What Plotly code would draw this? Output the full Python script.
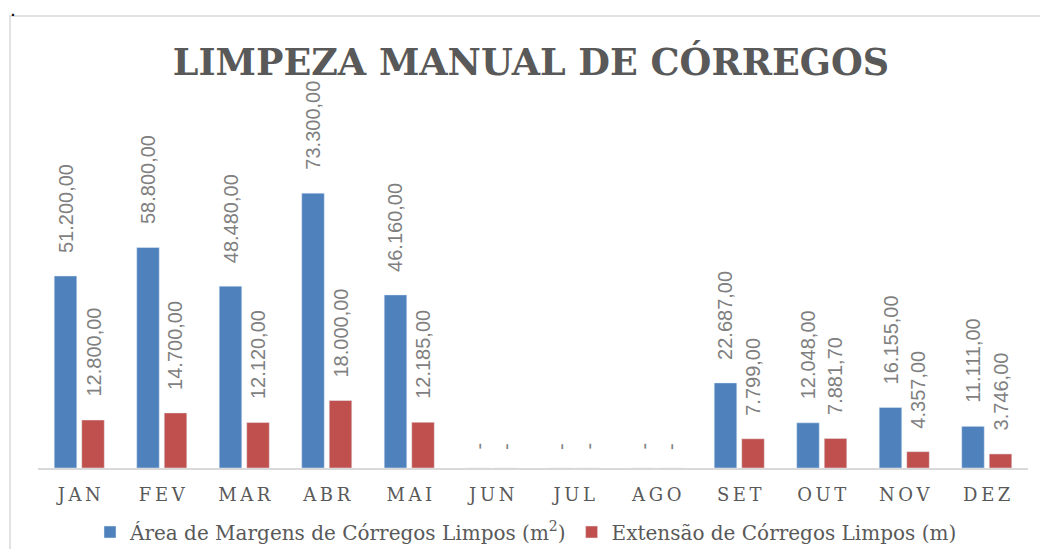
import plotly.graph_objects as go

months = ["JAN", "FEV", "MAR", "ABR", "MAI", "JUN", "JUL", "AGO", "SET", "OUT", "NOV", "DEZ"]
area_m2 = [51200, 58800, 48480, 73300, 46160, 0, 0, 0, 22687, 12048, 16155, 11111]
extensao_m = [12800, 14700, 12120, 18000, 12185, 0, 0, 0, 7799, 7881.7, 4357, 3746]

name_area = "Área de Margens de Córregos Limpos (m<sup>2</sup>)"
name_ext = "Extensão de Córregos Limpos (m)"
title_text = "LIMPEZA MANUAL DE CÓRREGOS"

BLUE = "#4F81BD"
RED = "#C0504D"
GRAY_TXT = "#595959"
LABEL_GRAY = "#7F7F7F"
SERIF = "DejaVu Serif"
SANS = "Liberation Sans"


def fmt_br(v):
    if v == 0:
        return "-"
    s = f"{v:,.2f}"
    return s.replace(",", "X").replace(".", ",").replace("X", ".")


fig = go.Figure()
fig.add_trace(go.Bar(x=months, y=area_m2, name=name_area, marker_color=BLUE))
fig.add_trace(go.Bar(x=months, y=extensao_m, name=name_ext, marker_color=RED))

annotations = []
for series, shift in ((area_m2, -13.75), (extensao_m, 13.75)):
    for m, v in zip(months, series):
        annotations.append(dict(
            x=m, y=v, xref="x", yref="y", text=fmt_br(v), showarrow=False,
            textangle=-90, xanchor="center", yanchor="bottom",
            xshift=shift, yshift=21 if v else 16,
            font=dict(family=SANS, size=20, color=LABEL_GRAY),
        ))

annotations.append(dict(
    x=-0.0255, y=1.246, xref="paper", yref="paper", text="<b>.</b>", showarrow=False,
    xanchor="center", yanchor="top",
    font=dict(family=SANS, size=14, color="black"),
))

fig.update_layout(
    width=1040, height=549,
    margin=dict(l=38, r=12, t=93, b=81, autoexpand=False),
    paper_bgcolor="white", plot_bgcolor="white",
    barmode="group", bargap=0.333, bargroupgap=0.18,
    title=dict(
        text="<b>" + title_text + "</b>",
        x=531 / 1040, xanchor="center", xref="container",
        y=(549 - 62) / 549, yanchor="middle", yref="container",
        font=dict(family=SERIF, size=36.5, color=GRAY_TXT),
    ),
    xaxis=dict(
        showline=True, linecolor="#D9D9D9", linewidth=1.5,
        ticks="", showgrid=False, zeroline=False,
        tickmode="array", tickvals=months,
        ticktext=["\u2009".join(m) for m in months],
        tickfont=dict(family=SERIF, size=18, color=GRAY_TXT),
        ticklabelstandoff=10,
    ),
    yaxis=dict(range=[0, 100000], visible=False),
    legend=dict(
        orientation="h", x=526 / 1040, xanchor="center", xref="container",
        y=(549 - 532) / 549, yanchor="middle", yref="container",
        font=dict(family=SERIF, size=20, color=GRAY_TXT), itemwidth=30,
        traceorder="normal",
    ),
    annotations=annotations,
    shapes=[dict(
        type="rect", xref="paper", yref="paper",
        x0=-0.0283, x1=1.2, y0=-0.4, y1=1.2053,
        line=dict(color="#D9D9D9", width=1.5), layer="below",
    )],
)

fig.write_html(
    "out.html",
    config={"displayModeBar": False},
    post_script="document.body.style.margin='0';document.body.style.overflow='hidden';",
)
